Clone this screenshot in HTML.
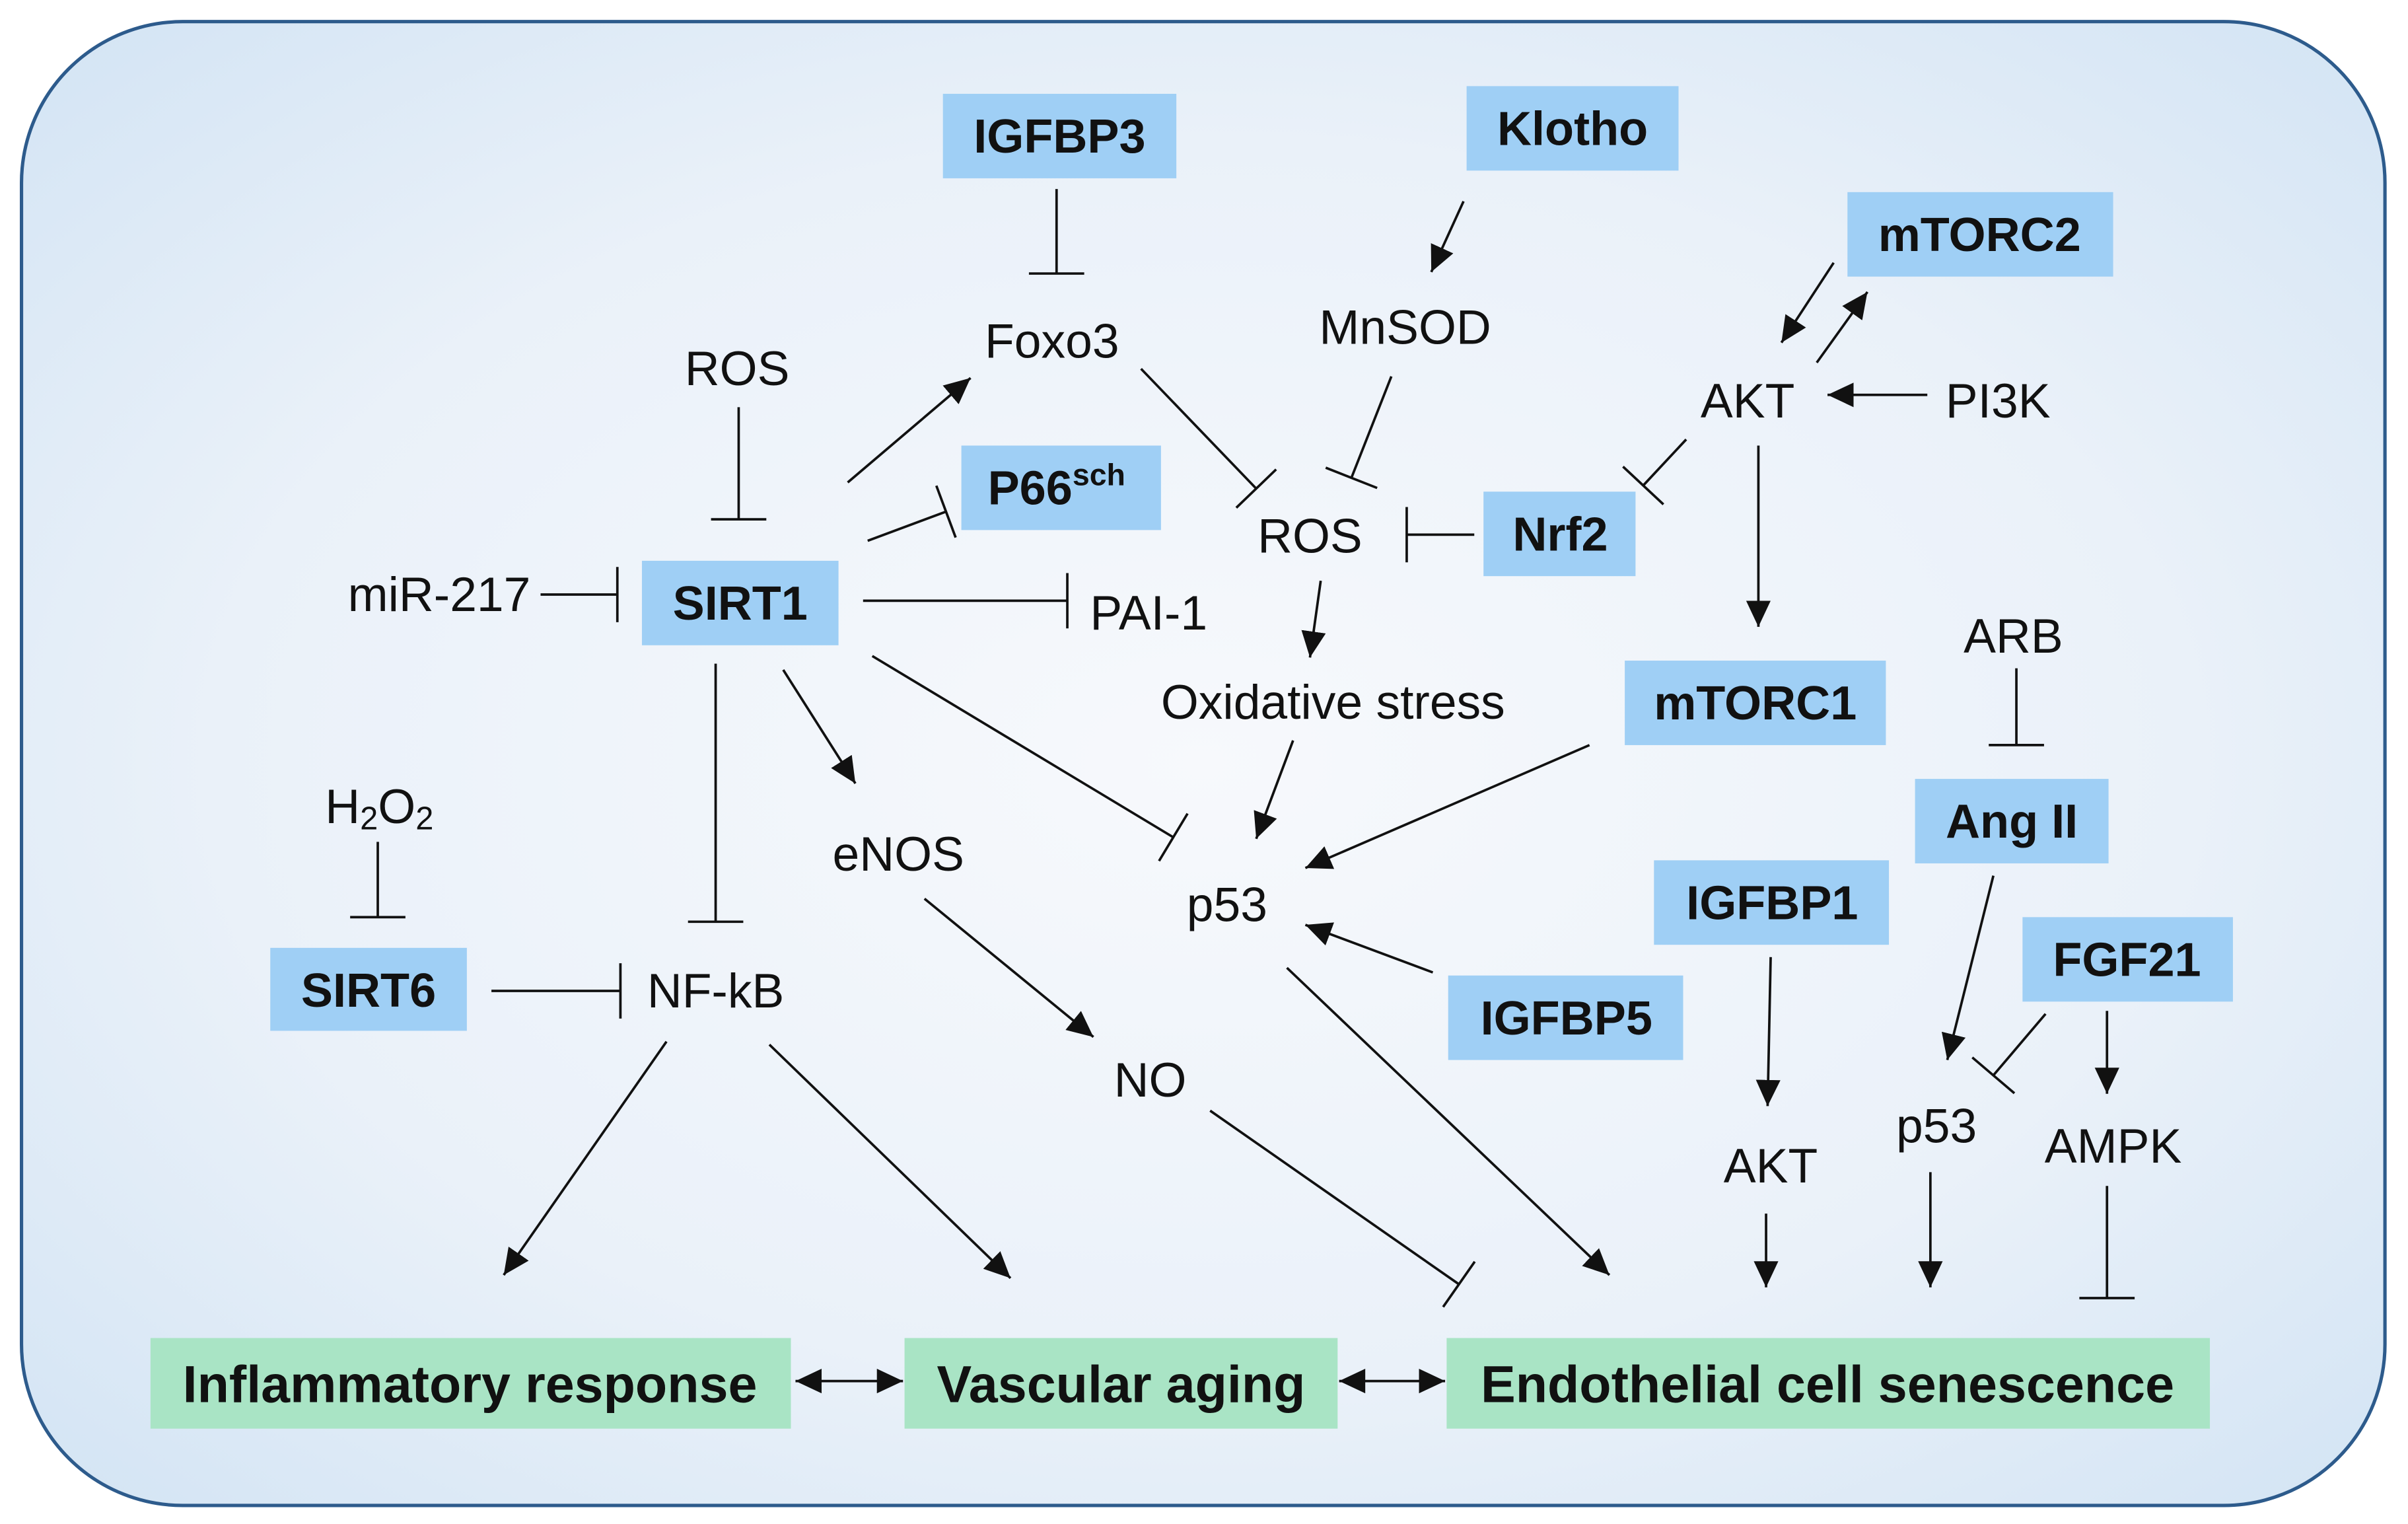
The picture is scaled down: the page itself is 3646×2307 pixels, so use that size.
<!DOCTYPE html>
<html><head><meta charset="utf-8"><style>
html,body{margin:0;padding:0;background:#fff}
svg{display:block}
text{font-family:"Liberation Sans",Arial,sans-serif;fill:#111}
.t{font-size:31.5px;text-anchor:middle;dominant-baseline:central}
.b{font-size:31px;font-weight:bold;text-anchor:middle;dominant-baseline:central}
.g{font-size:34px;font-weight:bold;text-anchor:middle;dominant-baseline:central}
.l{stroke:#111;stroke-width:1.6;fill:none}
</style></head><body>
<svg width="3646" height="2307" viewBox="0 0 1568 992" xmlns="http://www.w3.org/2000/svg">
<defs>
<radialGradient id="bg" cx="50%" cy="50%" r="70%">
<stop offset="0" stop-color="#f7f9fc"/><stop offset="0.6" stop-color="#eaf1f9"/><stop offset="1" stop-color="#d3e4f4"/>
</radialGradient>
<marker id="a" markerUnits="userSpaceOnUse" markerWidth="20" markerHeight="16" refX="17" refY="8" orient="auto">
<path d="M0,0 L17,8 L0,16 Z" fill="#111"/></marker>
<marker id="as" markerUnits="userSpaceOnUse" markerWidth="20" markerHeight="16" refX="0" refY="8" orient="auto">
<path d="M17,0 L0,8 L17,16 Z" fill="#111"/></marker>
<marker id="t" markerUnits="userSpaceOnUse" markerWidth="4" markerHeight="40" refX="2" refY="20" orient="auto">
<line x1="2" y1="2" x2="2" y2="38" stroke="#111" stroke-width="1.6"/></marker>
</defs>
<rect x="14" y="14" width="1539" height="966" rx="105" ry="105" fill="url(#bg)" stroke="#2d5b8c" stroke-width="2.2"/>

<g fill="#9fcff5">
<rect x="614" y="61" width="152" height="55"/>
<rect x="955" y="56" width="138" height="55"/>
<rect x="1203" y="125" width="173" height="55"/>
<rect x="626" y="290" width="130" height="55"/>
<rect x="418" y="365" width="128" height="55"/>
<rect x="966" y="320" width="99" height="55"/>
<rect x="1058" y="430" width="170" height="55"/>
<rect x="1247" y="507" width="126" height="55"/>
<rect x="1077" y="560" width="153" height="55"/>
<rect x="1317" y="597" width="137" height="55"/>
<rect x="943" y="635" width="153" height="55"/>
<rect x="176" y="617" width="128" height="54"/>
</g>
<g fill="#a9e4c5">
<rect x="98" y="871" width="417" height="59"/>
<rect x="589" y="871" width="282" height="59"/>
<rect x="942" y="871" width="497" height="59"/>
</g>

<text class="b" x="690" y="89">IGFBP3</text>
<text class="b" x="1024" y="84">Klotho</text>
<text class="b" x="1289" y="153">mTORC2</text>
<text class="b" x="688" y="318">P66<tspan font-size="20" dy="-9">sch</tspan></text>
<text class="b" x="482" y="393">SIRT1</text>
<text class="b" x="1016" y="348">Nrf2</text>
<text class="b" x="1143" y="458">mTORC1</text>
<text class="b" x="1310" y="535">Ang II</text>
<text class="b" x="1154" y="588">IGFBP1</text>
<text class="b" x="1385" y="625">FGF21</text>
<text class="b" x="1020" y="663">IGFBP5</text>
<text class="b" x="240" y="645">SIRT6</text>
<text class="g" x="306" y="901">Inflammatory response</text>
<text class="g" x="730" y="901">Vascular aging</text>
<text class="g" x="1190" y="901">Endothelial cell senescence</text>

<text class="t" x="685" y="222">Foxo3</text>
<text class="t" x="915" y="213">MnSOD</text>
<text class="t" x="480" y="240">ROS</text>
<text class="t" x="1138" y="261">AKT</text>
<text class="t" x="1301" y="261">PI3K</text>
<text class="t" x="853" y="349">ROS</text>
<text class="t" x="286" y="387">miR-217</text>
<text class="t" x="748" y="399">PAI-1</text>
<text class="t" x="1311" y="414">ARB</text>
<text class="t" x="868" y="457">Oxidative stress</text>
<text class="t" x="247" y="525">H<tspan font-size="21" dy="8">2</tspan><tspan dy="-8">O</tspan><tspan font-size="21" dy="8">2</tspan></text>
<text class="t" x="585" y="556">eNOS</text>
<text class="t" x="799" y="589">p53</text>
<text class="t" x="466" y="645">NF-kB</text>
<text class="t" x="749" y="703">NO</text>
<text class="t" x="1153" y="759">AKT</text>
<text class="t" x="1261" y="733">p53</text>
<text class="t" x="1376" y="746">AMPK</text>

<g class="l" marker-end="url(#a)">
<line x1="552" y1="314" x2="632" y2="246"/>
<line x1="953" y1="131" x2="932" y2="177"/>
<line x1="1194" y1="171" x2="1160" y2="223"/>
<line x1="1183" y1="236" x2="1216" y2="190"/>
<line x1="1255" y1="257" x2="1190" y2="257"/>
<line x1="1145" y1="290" x2="1145" y2="408"/>
<line x1="860" y1="378" x2="853" y2="428"/>
<line x1="842" y1="482" x2="818" y2="546"/>
<line x1="1035" y1="485" x2="850" y2="565"/>
<line x1="933" y1="633" x2="850" y2="602"/>
<line x1="510" y1="436" x2="557" y2="510"/>
<line x1="602" y1="585" x2="712" y2="675"/>
<line x1="434" y1="678" x2="328" y2="830"/>
<line x1="501" y1="680" x2="658" y2="832"/>
<line x1="838" y1="630" x2="1048" y2="830"/>
<line x1="1153" y1="623" x2="1151" y2="720"/>
<line x1="1150" y1="790" x2="1150" y2="838"/>
<line x1="1298" y1="570" x2="1268" y2="690"/>
<line x1="1372" y1="658" x2="1372" y2="712"/>
<line x1="1257" y1="763" x2="1257" y2="838"/>
</g>
<g class="l" marker-end="url(#a)" marker-start="url(#as)" stroke-width="2.6">
<line x1="518" y1="899" x2="588" y2="899"/>
<line x1="872" y1="899" x2="941" y2="899"/>
</g>
<g class="l" marker-end="url(#t)">
<line x1="688" y1="123" x2="688" y2="178"/>
<line x1="481" y1="265" x2="481" y2="338"/>
<line x1="352" y1="387" x2="402" y2="387"/>
<line x1="565" y1="352" x2="616" y2="333"/>
<line x1="562" y1="391" x2="695" y2="391"/>
<line x1="743" y1="240" x2="818" y2="318"/>
<line x1="906" y1="245" x2="880" y2="311"/>
<line x1="960" y1="348" x2="916" y2="348"/>
<line x1="1098" y1="286" x2="1070" y2="316"/>
<line x1="568" y1="427" x2="764" y2="545"/>
<line x1="466" y1="432" x2="466" y2="600"/>
<line x1="246" y1="548" x2="246" y2="597"/>
<line x1="320" y1="645" x2="404" y2="645"/>
<line x1="1313" y1="435" x2="1313" y2="485"/>
<line x1="1332" y1="660" x2="1298" y2="700"/>
<line x1="788" y1="723" x2="950" y2="836"/>
<line x1="1372" y1="772" x2="1372" y2="845"/>
</g>
</svg>
</body></html>
